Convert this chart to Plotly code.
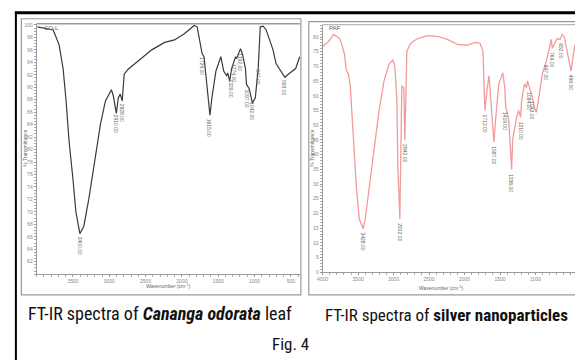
import numpy as np
import plotly.graph_objects as go

W, H = 575, 363

# ---------------- data ----------------
# FT-IR of Cananga odorata leaf (wavenumber cm-1, %T)
leaf_wn = [3990, 3772, 3691, 3636, 3595, 3555, 3500, 3460, 3405, 3351, 3283, 3188, 3120, 3053,
           2971, 2944, 2903, 2876, 2849, 2822, 2795, 2740, 2605, 2415, 2238, 2102, 1967, 1831,
           1790, 1736, 1722, 1695, 1654, 1614, 1587, 1532, 1464, 1424, 1383, 1369, 1342, 1315,
           1261, 1247, 1193, 1166, 1125, 1111, 1071, 1057, 1030, 989, 949, 921, 881, 840, 786,
           745, 704, 650, 582, 514, 433, 378]
leaf_t = [99.7, 99.2, 96.8, 93.0, 87.8, 81.5, 75.2, 70.0, 66.5, 67.7, 72.0, 78.8, 84.2, 87.8,
          89.6, 88.6, 85.8, 88.3, 88.9, 87.8, 92.1, 92.9, 94.2, 96.0, 97.2, 97.6, 98.6, 99.9,
          99.7, 96.2, 95.4, 94.9, 90.5, 85.5, 88.3, 92.6, 94.9, 92.6, 91.8, 92.3, 91.0, 93.0,
          94.9, 94.6, 96.2, 95.3, 93.0, 90.5, 89.7, 89.1, 87.5, 88.3, 93.0, 99.7, 99.8, 99.2, 97.3,
          96.0, 93.8, 92.9, 91.6, 92.3, 93.0, 94.9]
leaf_peaks = [3400, 2910, 2828, 1724, 1615, 1329, 1274, 1192, 1097, 1042, 947, 593]

# FT-IR of silver nanoparticles (wavenumber cm-1, %T)
np_wn = [4000, 3916, 3847, 3805, 3763, 3735, 3693, 3665, 3637, 3609, 3568, 3526, 3484, 3428,
         3400, 3344, 3275, 3205, 3135, 3065, 3010, 2982, 2954, 2940, 2912, 2898, 2884, 2856,
         2842, 2828, 2814, 2758, 2661, 2521, 2382, 2242, 2103, 1963, 1852, 1782, 1740, 1726,
         1712, 1684, 1656, 1628, 1601, 1587, 1559, 1517, 1461, 1433, 1419, 1405, 1377, 1349,
         1336, 1322, 1266, 1238, 1210, 1196, 1154, 1126, 1112, 1084, 1057, 1043, 1015, 987,
         945, 903, 847, 819, 778, 764, 722, 694, 652, 624, 596, 554, 499, 445]
np_t = [76.9, 78.5, 80.9, 80.2, 79.5, 77.9, 74.2, 68.5, 67.5, 62.8, 47.3, 29.2, 18.1, 14.8,
        18.1, 29.2, 42.6, 55.0, 65.1, 70.8, 72.2, 70.1, 58.4, 35.9, 18.1, 35.9, 63.4, 62.8,
        45.0, 58.4, 75.2, 77.9, 79.5, 80.5, 80.2, 79.2, 77.5, 77.2, 78.2, 77.9, 75.2, 64.1,
        55.0, 61.8, 66.8, 58.4, 47.3, 44.3, 52.7, 64.1, 67.8, 62.8, 56.0, 55.0, 51.7, 38.3,
        34.9, 45.0, 52.7, 55.0, 52.7, 58.4, 64.1, 62.8, 65.1, 62.8, 60.7, 59.4, 56.0, 54.4,
        60.7, 67.5, 71.8, 75.2, 79.2, 76.2, 77.9, 79.5, 79.2, 80.9, 80.2, 75.2, 68.5, 77.5]
np_peaks = [3428, 2912, 2842, 1712, 1587, 1419, 1336, 1210, 1084, 1043, 847, 764, 652, 499]

wn_ticks = [3500, 3000, 2500, 2000, 1500, 1000, 500]
np_wn_ticks = [4000, 3500, 3000, 2500, 2000, 1500, 1000, 500]
leaf_t_ticks = list(range(62, 101, 2))
np_t_ticks = list(range(0, 81, 5))

captions = ["FT-IR spectra of <b><i>Cananga odorata</i></b> leaf",
            "FT-IR spectra of <b>silver nanoparticles</b>"]
fig_label = "Fig. 4"


def px(x):
    return x / W


def py(y):
    return 1 - y / H


fig = go.Figure()
fig.add_trace(go.Scatter(x=leaf_wn, y=leaf_t, mode="lines", xaxis="x", yaxis="y",
                         line=dict(color="#3a3a3a", width=1.2), showlegend=False, hoverinfo="skip"))
fig.add_trace(go.Scatter(x=np_wn, y=np_t, mode="lines", xaxis="x2", yaxis="y2",
                         line=dict(color="#f39a9a", width=1.3), showlegend=False, hoverinfo="skip"))

tickfont = dict(family="Liberation Sans", size=5, color="#888")
common = dict(showgrid=False, zeroline=False, showline=True, linecolor="#9a9a9a", linewidth=1,
              ticks="outside", ticklen=2, tickcolor="#9a9a9a", tickfont=tickfont)

fig.update_layout(
    width=W, height=H, margin=dict(l=0, r=0, t=0, b=0),
    paper_bgcolor="white", plot_bgcolor="white",
    xaxis=dict(domain=[px(31), px(297)], range=[4000, 375], anchor="y",
               tickvals=wn_ticks, ticktext=[str(v) for v in wn_ticks],
               minor=dict(dtick=100, ticks="outside", ticklen=1.5, tickcolor="#aaa"), **common),
    yaxis=dict(domain=[py(276), py(22)], range=[60, 100.2], anchor="x",
               tickvals=leaf_t_ticks, ticktext=[str(v) for v in leaf_t_ticks],
               minor=dict(dtick=0.5, ticks="outside", ticklen=1.5, tickcolor="#aaa"), **common),
    xaxis2=dict(domain=[px(320), 1.0], range=[4000, 443], anchor="y2",
                tickvals=np_wn_ticks, ticktext=[str(v) for v in np_wn_ticks],
                minor=dict(dtick=100, ticks="outside", ticklen=1.5, tickcolor="#aaa"), **common),
    yaxis2=dict(domain=[py(274), py(23)], range=[0, 84.2], anchor="x2",
                tickvals=np_t_ticks, ticktext=[str(v) for v in np_t_ticks],
                minor=dict(dtick=1, ticks="outside", ticklen=1.5, tickcolor="#aaa"), **common),
)

shapes = []
# outer black frame
shapes.append(dict(type="line", xref="paper", yref="paper", x0=px(9), x1=1.0, y0=py(11), y1=py(11),
                   line=dict(color="black", width=3)))
shapes.append(dict(type="line", xref="paper", yref="paper", x0=px(10), x1=px(10), y0=py(10), y1=0,
                   line=dict(color="black", width=2)))
# panel frames
shapes.append(dict(type="rect", xref="paper", yref="paper", x0=px(15.5), x1=px(298), y0=py(297), y1=py(17),
                   line=dict(color="#9a9a9a", width=1.2)))
shapes.append(dict(type="rect", xref="paper", yref="paper", x0=px(306), x1=px(580), y0=py(297), y1=py(20),
                   line=dict(color="#9a9a9a", width=1.2)))
# plot-area top lines
shapes.append(dict(type="line", xref="paper", yref="paper", x0=px(31), x1=px(297), y0=py(22), y1=py(22),
                   line=dict(color="#9a9a9a", width=1.5)))
shapes.append(dict(type="line", xref="paper", yref="paper", x0=px(320), x1=1.0, y0=py(23), y1=py(23),
                   line=dict(color="#aaaaaa", width=1)))
fig.update_layout(shapes=shapes)

ann = []
small = dict(family="Liberation Sans", size=5, color="#666")


def curve_at(wns, ts, w):
    a = np.array(wns)[::-1]
    b = np.array(ts)[::-1]
    return float(np.interp(w, a, b))


for w in leaf_peaks:
    yv = curve_at(leaf_wn, leaf_t, w)
    ann.append(dict(x=w, y=yv, xref="x", yref="y", text=f"{w:.2f}", showarrow=False,
                    textangle=90, font=small, xanchor="center", yanchor="top", yshift=-2))
for w in np_peaks:
    yv = curve_at(np_wn, np_t, w)
    ann.append(dict(x=w, y=yv, xref="x2", yref="y2", text=f"{w:.2f}", showarrow=False,
                    textangle=90, font=small, xanchor="center", yanchor="top", yshift=-2))


def paper_text(x, y, text, font, angle=0, xanchor="center"):
    ann.append(dict(x=px(x), y=py(y), xref="paper", yref="paper", text=text, showarrow=False,
                    textangle=angle, xanchor=xanchor, yanchor="middle", font=font))


# sample names
paper_text(36, 26, "CO-L", dict(family="Liberation Sans", size=6, color="#555"), xanchor="left")
paper_text(324, 26, "PAF", dict(family="Liberation Sans", size=6, color="#555"), xanchor="left")
# axis titles
paper_text(164, 288, "Wavenumber (cm<sup>-1</sup>)", dict(family="Liberation Sans", size=5, color="#666"))
paper_text(440, 290, "Wavenumber (cm<sup>-1</sup>)", dict(family="Liberation Sans", size=5, color="#666"))
paper_text(19, 148, "% Transmittance", dict(family="Liberation Sans", size=5, color="#666"), angle=-90)
paper_text(309, 148, "% Transmittance", dict(family="Liberation Sans", size=5, color="#666"), angle=-90)

capfam = "Liberation Sans Narrow, Roboto Condensed, Liberation Sans"
paper_text(156, 316, captions[0], dict(family=capfam, size=18, color="#111"))
paper_text(445, 317, captions[1], dict(family=capfam, size=17, color="#111"))
paper_text(288, 347, fig_label, dict(family=capfam, size=17, color="#111"))
fig.update_layout(annotations=ann)

fig.write_html("out.html")
